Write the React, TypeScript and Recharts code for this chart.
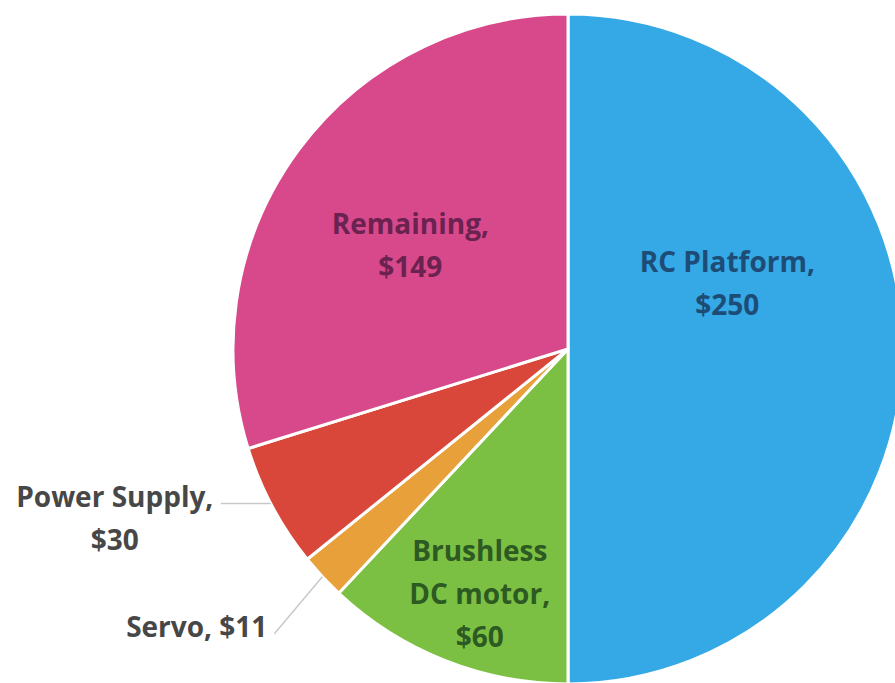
import React from "react";
import { PieChart, Pie, Cell } from "recharts";

// cost breakdown, clockwise from 12 o'clock
const parts = ["RC Platform", "Brushless DC motor", "Servo", "Power Supply", "Remaining"];
const costs = [250, 60, 11, 30, 149];

const sliceColors = ["#35a8e6", "#7cc043", "#e8a03a", "#d9473a", "#d8498b"];
const textColors = ["#1d4d76", "#2c5a22", "#474747", "#474747", "#6a2250"];

// per-label placement: inside labels sit at a fraction of the radius,
// outside ones get a leader line from the rim
const labelLayout = [
  { inside: true, dAngle: 22.8, r: 0.516, wrap: 12 },
  { inside: true, dAngle: 1.7, r: 0.774, wrap: 9 },
  { inside: false, dAngle: 0, lead: [-48, 57], textDx: -7, textDy: -8, anchor: "end", wrap: 20 },
  { inside: false, dAngle: -0.6, lead: [-50, 0], textDx: -106, textDy: -8, anchor: "middle", wrap: 13 },
  { inside: true, dAngle: 2.9, r: 0.564, wrap: 10 },
];

const data = parts.map((name, i) => ({ name, value: costs[i] }));

const FONT = "'Open Sans', Lato, sans-serif";
const FONT_SIZE = 28;
const LINE_H = 43;
const RAD = Math.PI / 180;

function wrapWords(text: string, max: number) {
  const lines: string[] = [];
  let cur = "";
  text.split(" ").forEach((w) => {
    const next = cur ? cur + " " + w : w;
    if (next.length > max && cur) {
      lines.push(cur);
      cur = w;
    } else cur = next;
  });
  if (cur) lines.push(cur);
  return lines;
}

const renderLabel = (props: any) => {
  const { cx, cy, midAngle, outerRadius, index, name, value } = props;
  const lay: any = labelLayout[index];
  const lines = wrapWords(`${name}, $${value}`, lay.wrap);
  const a = (midAngle + lay.dAngle) * RAD;
  const style = {
    fontFamily: FONT,
    fontSize: FONT_SIZE,
    fontWeight: 700,
  } as React.CSSProperties;

  if (lay.inside) {
    const px = cx + outerRadius * lay.r * Math.cos(a);
    const py = cy - outerRadius * lay.r * Math.sin(a);
    const y0 = py - ((lines.length - 1) * LINE_H) / 2;
    return (
      <text textAnchor="middle" dominantBaseline="central" fill={textColors[index]} style={style}>
        {lines.map((l, k) => (
          <tspan key={k} x={px} y={y0 + k * LINE_H}>
            {l}
          </tspan>
        ))}
      </text>
    );
  }

  const ex = cx + outerRadius * Math.cos(a);
  const ey = cy - outerRadius * Math.sin(a);
  const lx = ex + lay.lead[0];
  const ly = ey + lay.lead[1];
  const tx = lx + lay.textDx;
  const ty = ly + lay.textDy;
  return (
    <g>
      <polyline points={`${ex},${ey} ${lx},${ly}`} fill="none" stroke="#c9c9c9" strokeWidth={1.5} />
      <text textAnchor={lay.anchor} dominantBaseline="central" fill={textColors[index]} style={style}>
        {lines.map((l, k) => (
          <tspan key={k} x={tx} y={ty + k * LINE_H}>
            {l}
          </tspan>
        ))}
      </text>
    </g>
  );
};

export default function App() {
  return (
    <div style={{ position: "absolute", left: 0, top: 0, width: 895, height: 683, background: "#fff" }}>
      <PieChart width={895} height={683} margin={{ top: 0, right: 0, bottom: 0, left: 0 }}>
        <Pie
          data={data}
          dataKey="value"
          nameKey="name"
          cx={568}
          cy={349}
          outerRadius={335}
          startAngle={90}
          endAngle={-270}
          stroke="#ffffff"
          strokeWidth={3}
          label={renderLabel}
          labelLine={false}
          isAnimationActive={false}
        >
          {data.map((d, i) => (
            <Cell key={d.name} fill={sliceColors[i]} />
          ))}
        </Pie>
      </PieChart>
    </div>
  );
}
